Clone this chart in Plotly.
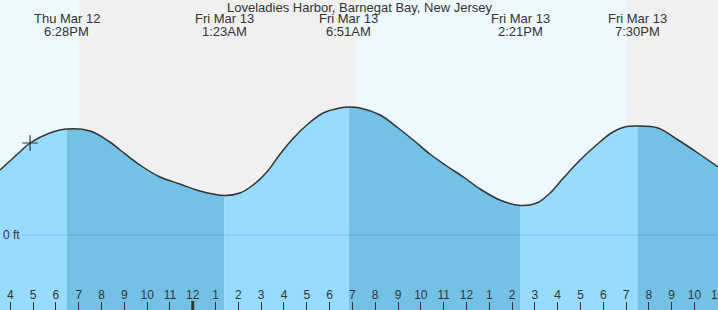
import plotly.graph_objects as go
import pandas as pd

# ---- data ----
TITLE = "Loveladies Harbor, Barnegat Bay, New Jersey"

tide_times = [
    "2026-03-12 15:33", "2026-03-12 16:25", "2026-03-12 16:52", "2026-03-12 17:44",
    "2026-03-12 18:28", "2026-03-12 19:30", "2026-03-12 20:22", "2026-03-12 20:49",
    "2026-03-12 21:41", "2026-03-12 22:34", "2026-03-12 23:26", "2026-03-13 00:19",
    "2026-03-13 01:23", "2026-03-13 02:04", "2026-03-13 02:39",
    "2026-03-13 03:15", "2026-03-13 03:50", "2026-03-13 04:25", "2026-03-13 05:00",
    "2026-03-13 05:43", "2026-03-13 06:27", "2026-03-13 06:51", "2026-03-13 07:20",
    "2026-03-13 08:13", "2026-03-13 08:57", "2026-03-13 09:40", "2026-03-13 10:24",
    "2026-03-13 11:08", "2026-03-13 11:52", "2026-03-13 12:36", "2026-03-13 13:28",
    "2026-03-13 14:21", "2026-03-13 15:05", "2026-03-13 15:40", "2026-03-13 16:15",
    "2026-03-13 16:59", "2026-03-13 17:51", "2026-03-13 18:21", "2026-03-13 18:56",
    "2026-03-13 19:30", "2026-03-13 20:24", "2026-03-13 21:17", "2026-03-13 22:09",
    "2026-03-13 23:02",
]
tide_heights_ft = [
    0.65, 0.83, 0.92, 1.02,
    1.06, 1.04, 0.93, 0.85,
    0.70, 0.58, 0.51, 0.44,
    0.395, 0.42, 0.50,
    0.63, 0.81, 0.97, 1.10,
    1.22, 1.27, 1.28, 1.27,
    1.20, 1.08, 0.95, 0.81,
    0.69, 0.58, 0.46, 0.35,
    0.295, 0.32, 0.42, 0.57,
    0.75, 0.93, 1.02, 1.08,
    1.09, 1.07, 0.95, 0.82,
    0.68,
]

extreme_times = [
    "2026-03-12 18:28", "2026-03-13 01:23", "2026-03-13 06:51",
    "2026-03-13 14:21", "2026-03-13 19:30",
]
extreme_day_labels = ["Thu Mar 12", "Fri Mar 13", "Fri Mar 13", "Fri Mar 13", "Fri Mar 13"]
extreme_time_labels = ["6:28PM", "1:23AM", "6:51AM", "2:21PM", "7:30PM"]

daylight_start = ["2026-03-12 15:32:53", "2026-03-13 07:09"]
daylight_end = ["2026-03-12 19:01", "2026-03-13 19:01"]

now_time = "2026-03-12 16:52"
now_height_ft = 0.92

x_range = ["2026-03-12 15:32:53", "2026-03-13 23:01:50"]
y_range = [-0.75, 2.35]

tick_times = pd.date_range("2026-03-12 16:00", "2026-03-13 23:00", freq="h")
tick_labels = ["4", "5", "6", "7", "8", "9", "10", "11", "12", "1", "2", "3",
               "4", "5", "6", "7", "8", "9", "10", "11", "12", "1", "2", "3",
               "4", "5", "6", "7", "8", "9", "10", "11"]
midnight = "2026-03-13 00:00"

# ---- styles ----
DAY_BG = "#eef8ff"
NIGHT_BG = "#f0f0f0"
RISING = "#97dcfe"
FALLING = "#73c2e6"
INK = "#333333"
FONT = "Liberation Sans, Arial, sans-serif"

t = list(pd.to_datetime(tide_times))
h = tide_heights_ft
ext = [t.index(pd.Timestamp(e)) for e in extreme_times]
bounds = [0] + ext + [len(t) - 1]

fig = go.Figure()
for a, b in zip(bounds[:-1], bounds[1:]):
    if a == b:
        continue
    color = RISING if h[b] > h[a] else FALLING
    fig.add_trace(go.Scatter(x=[t[a], t[b]], y=[-1, -1], mode="lines",
                             line=dict(width=0), hoverinfo="skip", showlegend=False))
    fig.add_trace(go.Scatter(x=t[a:b + 1], y=h[a:b + 1], mode="lines",
                             line=dict(width=0, shape="spline", smoothing=1),
                             fill="tonexty", fillcolor=color,
                             hoverinfo="skip", showlegend=False))

fig.add_trace(go.Scatter(x=t, y=h, mode="lines",
                         line=dict(color=INK, width=1.5, shape="spline", smoothing=1),
                         hoverinfo="skip", showlegend=False))
fig.add_trace(go.Scatter(x=[now_time], y=[now_height_ft], mode="markers",
                         marker=dict(symbol="cross-thin", size=11,
                                     line=dict(color=INK, width=1.2)),
                         hoverinfo="skip", showlegend=False))

shapes = []
for s, e in zip(daylight_start, daylight_end):
    shapes.append(dict(type="rect", xref="x", yref="paper", x0=s, x1=e, y0=0, y1=1,
                       fillcolor=DAY_BG, line=dict(width=0), layer="below"))
shapes.append(dict(type="line", xref="paper", yref="y", x0=22 / 718, x1=1, y0=0, y1=0,
                   line=dict(color="rgba(0,60,100,0.15)", width=1), layer="above"))
shapes.append(dict(type="line", xref="x", yref="paper", x0=midnight, x1=midnight,
                   y0=0, y1=9 / 310, line=dict(color=INK, width=3), layer="above"))

annotations = [dict(text=TITLE, xref="paper", yref="paper", x=0.5, y=1, yshift=2,
                    xanchor="center", yanchor="top", showarrow=False,
                    font=dict(family=FONT, size=13, color=INK))]
for et, dl, tl in zip(extreme_times, extreme_day_labels, extreme_time_labels):
    annotations.append(dict(text=dl, xref="x", yref="paper", x=et, y=1, yshift=-10,
                            xanchor="center", yanchor="top", showarrow=False,
                            borderpad=0,
                            font=dict(family=FONT, size=13, color=INK)))
    annotations.append(dict(text=tl, xref="x", yref="paper", x=et, y=1, yshift=-23,
                            xanchor="center", yanchor="top", showarrow=False,
                            borderpad=0,
                            font=dict(family=FONT, size=13, color=INK)))
annotations.append(dict(text="0 ft", xref="paper", yref="y", x=0, y=0, xshift=1,
                        xanchor="left", yanchor="middle", showarrow=False,
                        font=dict(family=FONT, size=12, color=INK)))

fig.update_layout(
    width=718, height=310,
    margin=dict(l=0, r=0, t=0, b=0, autoexpand=False),
    paper_bgcolor=NIGHT_BG, plot_bgcolor=NIGHT_BG,
    shapes=shapes, annotations=annotations,
    xaxis=dict(type="date", range=x_range, tickvals=list(tick_times), ticktext=tick_labels,
               ticks="inside", ticklen=8, tickwidth=1, tickcolor=INK,
               ticklabelposition="inside", ticklabeloverflow="allow", automargin=False,
               showgrid=False, zeroline=False,
               showline=False, fixedrange=True,
               tickfont=dict(family=FONT, size=12, color=INK)),
    yaxis=dict(range=y_range, visible=False, fixedrange=True, automargin=False),
    showlegend=False,
)

fig.write_html("out.html", config={"displayModeBar": False})
